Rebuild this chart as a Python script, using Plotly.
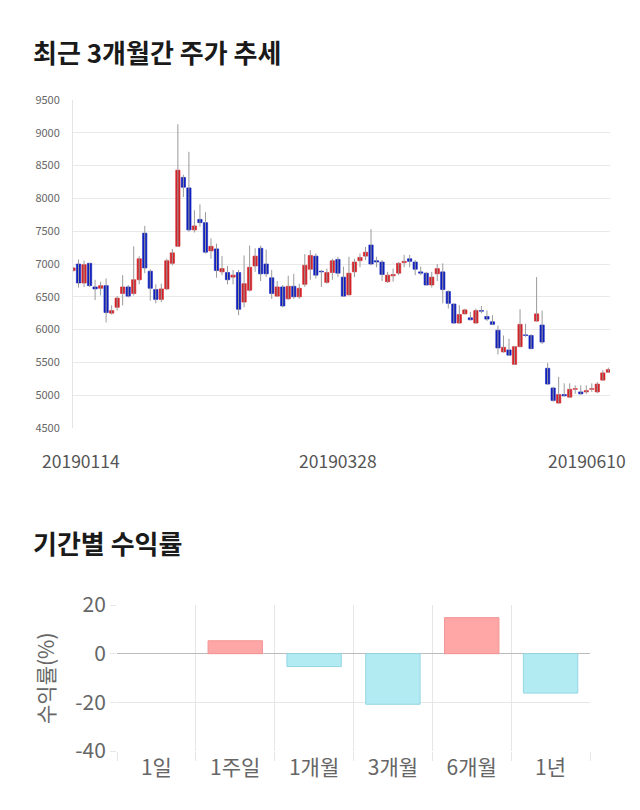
import plotly.graph_objects as go

# ---------------- data ----------------
opens = [6900,7000,6710,7010,6650,6630,6670,6250,6340,6550,6650,6550,6760,7470,6890,6610,6460,6620,7010,7270,
         8320,8160,7520,7680,7630,7200,7230,6880,6870,6800,6870,6420,6600,6970,7240,7000,6790,6510,6650,6470,
         6660,6500,6690,6920,7120,6890,6720,6870,7070,6800,6530,6880,7050,7120,7290,7050,7030,6730,6820,6860,
         7020,7080,7030,6880,6860,6680,6850,6880,6580,6390,6100,6240,6180,6100,6290,6200,6120,5990,5660,5690,
         5470,5740,5920,5910,6130,6070,5410,5110,4880,5010,4970,5090,5050,5050,5090,5050,5230,5350]
highs = [6960,7070,7050,7020,6760,6730,6780,6370,6510,6830,6680,7270,7120,7580,6920,6690,6700,7080,7230,9130,
         8360,8710,7820,7910,7790,7390,7310,7120,6970,6910,6910,7130,7280,7240,7280,7220,6910,6740,6680,6820,
         6850,6700,7150,7210,7160,6910,6930,7080,7110,6960,7110,7080,7160,7260,7530,7110,7060,6880,6930,7030,
         7140,7140,7060,6960,6880,6880,7000,7010,6600,6400,6370,6320,6270,6320,6360,6290,6220,6060,5910,5860,
         5750,6310,6090,5930,6800,6290,5490,5130,5280,5180,5180,5150,5150,5150,5180,5200,5380,5420]
lows = [6880,6640,6650,6650,6450,6520,6110,6230,6290,6370,6490,6520,6690,6860,6440,6400,6420,6600,6980,7260,
        8020,7490,7480,7570,7160,7080,6790,6830,6690,6690,6220,6340,6580,6880,6740,6800,6470,6500,6340,6450,
        6470,6470,6650,6760,6780,6650,6700,6760,6800,6500,6520,6800,6950,7060,6980,6950,6740,6710,6730,6830,
        6950,6950,6830,6830,6670,6640,6740,6400,6320,6090,6090,6230,6140,6090,6250,6130,6070,5620,5650,5600,
        5460,5730,5890,5700,6120,5780,5160,4900,4870,4980,4960,5020,5010,5020,5050,5030,5220,5340]
closes = [6940,6710,6990,6670,6620,6670,6260,6290,6480,6650,6510,6760,7080,6940,6630,6460,6620,7050,7170,8430,
          8170,7520,7580,7630,7180,7270,6900,6930,6760,6830,6310,6700,6950,7120,6850,6850,6550,6650,6360,6660,
          6500,6630,6980,7130,6830,6880,6870,7050,6860,6510,6860,7030,7100,7180,7000,7030,6840,6830,6840,7010,
          7040,7040,6920,6860,6680,6800,6930,6610,6400,6100,6230,6300,6150,6290,6280,6160,6080,5720,5730,5610,
          5740,6080,5910,5710,6240,5810,5170,4920,5010,4990,5090,5100,5020,5070,5100,5170,5340,5390]
date_ticks = ["20190114", "20190328", "20190610"]
date_tick_idx = [0, 48, 97]

periods = ["1일", "1주일", "1개월", "3개월", "6개월", "1년"]
returns = [0, 5.3, -5.3, -20.8, 14.8, -16.2]
return_tickvals = [-40, -20, 0, 20]
return_ticktext = ["-40", "-20", "0", "20"]

# ---------------- figure ----------------
W, H = 640, 810
FONT = "Noto Sans CJK KR"
RED, BLUE = "#d4232a", "#1020bd"

idx = list(range(len(opens)))
wx, wy = [], []
for i, h, l in zip(idx, highs, lows):
    wx += [i, i, None]
    wy += [l, h, None]

body_base = [min(o, c) for o, c in zip(opens, closes)]
body_h = [max(abs(c - o), 8) for o, c in zip(opens, closes)]
body_col = [RED if c >= o else BLUE for o, c in zip(opens, closes)]

fig = go.Figure()
fig.add_trace(go.Scatter(x=wx, y=wy, mode="lines", line=dict(color="#9a9a9a", width=1),
                         hoverinfo="skip", showlegend=False, xaxis="x", yaxis="y"))
fig.add_trace(go.Bar(x=idx, y=body_h, base=body_base, width=0.78,
                     marker=dict(color=body_col, line=dict(color=body_col, width=0.6)),
                     showlegend=False, xaxis="x", yaxis="y"))

bar_fill = ["#ffa6a6" if v >= 0 else "#b2ebf2" for v in returns]
bar_line = ["#f29494" if v >= 0 else "#94d6e2" for v in returns]
bar_lw = [1 if v != 0 else 0 for v in returns]
fig.add_trace(go.Bar(x=periods, y=returns, width=0.69,
                     marker=dict(color=bar_fill, line=dict(color=bar_line, width=bar_lw)),
                     showlegend=False, xaxis="x2", yaxis="y2"))

def px_x(p):
    return p / W

def px_y(p):
    return 1 - p / H

fig.update_layout(
    width=W, height=H, margin=dict(l=0, r=0, t=0, b=0, autoexpand=False),
    paper_bgcolor="white", plot_bgcolor="white",
    font=dict(family=FONT, color="#666"),
    xaxis=dict(domain=[px_x(73), px_x(610)], range=[0, 97.3], showgrid=False, automargin=False,
               showticklabels=False, zeroline=False, fixedrange=True),
    yaxis=dict(domain=[px_y(428), px_y(100)], range=[4500, 9500], dtick=500, automargin=False,
               showgrid=True, gridcolor="#e9e9e9", gridwidth=1, zeroline=False,
               showline=True, linecolor="#e4e4e4", linewidth=1,
               tickfont=dict(size=11, color="#666"), ticklabelstandoff=10, ticks=""),
    xaxis2=dict(domain=[px_x(117), px_x(590)], anchor="y2", type="category", automargin=False,
                tickson="boundaries", showgrid=True, gridcolor="#e6e6e6",
                ticks="outside", ticklen=9, tickcolor="#e6e6e6", ticklabelstandoff=2,
                tickfont=dict(size=21, color="#666"), showline=False, zeroline=False),
    yaxis2=dict(domain=[px_y(751), px_y(605)], anchor="x2", range=[-40, 20],
                tickvals=return_tickvals, ticktext=return_ticktext, automargin=False,
                showgrid=True, gridcolor="#e6e6e6", zeroline=True, zerolinecolor="#bbbbbb",
                zerolinewidth=1, ticks="outside", ticklen=6, tickcolor="#e6e6e6",
                tickfont=dict(size=21, color="#666")),
)

annos = [
    dict(text="<b>최근 3개월간 주가 추세</b>", x=px_x(31), y=px_y(51), xref="paper", yref="paper",
         xanchor="left", yanchor="middle", showarrow=False, font=dict(size=26, color="#1a1a1a", family=FONT)),
    dict(text="<b>기간별 수익률</b>", x=px_x(31), y=px_y(542), xref="paper", yref="paper",
         xanchor="left", yanchor="middle", showarrow=False, font=dict(size=26, color="#1a1a1a", family=FONT)),
    dict(text="수익률(%)", x=px_x(45), y=px_y(678), xref="paper", yref="paper", textangle=-90,
         xanchor="center", yanchor="middle", showarrow=False, font=dict(size=21, color="#666", family=FONT)),
]
anchors = ["left", "center", "right"]
shifts = [-33, 0, 20]
for lab, i, a, s in zip(date_ticks, date_tick_idx, anchors, shifts):
    annos.append(dict(text=lab, x=i, y=px_y(461), xref="x", yref="paper", xanchor=a, xshift=s,
                      yanchor="middle", showarrow=False, font=dict(size=17.5, color="#555", family=FONT)))
fig.update_layout(annotations=annos)

fig.write_html("out.html")
